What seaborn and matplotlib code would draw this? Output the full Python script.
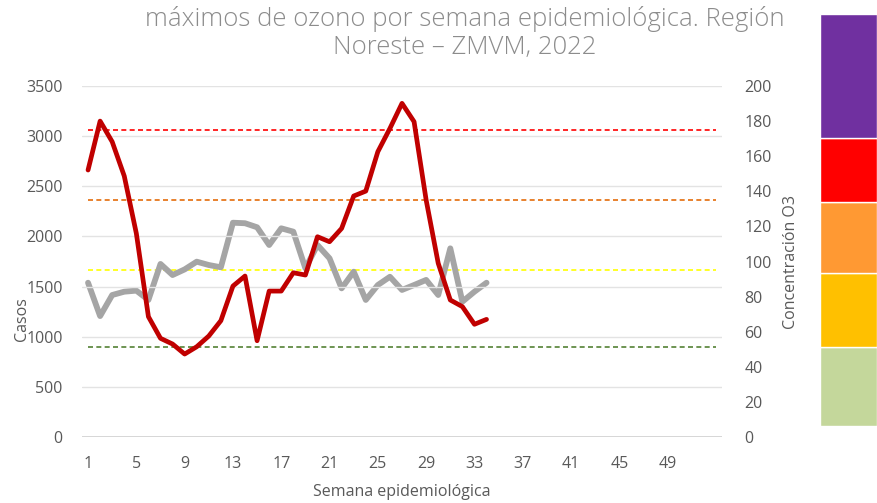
import numpy as np
import pandas as pd
import matplotlib
matplotlib.use("Agg")
import matplotlib.pyplot as plt
import seaborn as sns

# data
semanas = list(range(1, 35))
casos = [2662, 3150, 2944, 2602, 2030, 1200, 984, 927, 827, 900, 1007, 1160,
         1505, 1605, 960, 1455, 1455, 1638, 1615, 1997, 1947, 2080, 2403, 2452,
         2845, 3077, 3327, 3144, 2363, 1732, 1366, 1300, 1124, 1173]
ozono = [87.9, 68.9, 80.9, 82.8, 83.4, 78.1, 98.6, 92.3, 95.5, 99.9, 98.0, 96.7,
         122.1, 121.8, 119.5, 109.4, 118.9, 117.0, 96.1, 109.4, 101.8, 84.7, 94.2, 78.1,
         86.6, 91.3, 83.8, 86.6, 89.5, 80.9, 107.5, 77.1, 82.8, 87.9]

semanas_todas = list(range(1, 54))
umbrales = [175, 135, 95, 51]
umbral_colores = ["#FF0000", "#E46C0A", "#FFFF00", "#548235"]

x_ticks = list(range(1, 50, 4))

# colour bands on the right side (ppb edges)
bandas = [6, 51, 93, 134, 170, 241]
banda_colores = ["#C4D79B", "#FFC000", "#FF9933", "#FF0000", "#7030A0"]

sns.set_style("white")
plt.rcParams['font.family'] = ['Open Sans', 'DejaVu Sans']
gris = "#595959"

fig = plt.figure(figsize=(8.77, 5.03), dpi=100)
ax = fig.add_axes([82 / 877, 1 - 437 / 503, 640 / 877, 351 / 503])
ax2 = ax.twinx()

df_c = pd.DataFrame({"Semana": semanas, "Casos": casos})
df_o = pd.DataFrame({"Semana": semanas, "O3": ozono})

# horizontal gridlines
for v in range(500, 3501, 500):
    ax.axhline(v, color="#E3E3E3", lw=1, zorder=0)
ax.axhline(0, color="#D0D0D0", lw=1.2, zorder=0)

# threshold lines on right axis
for val, col in zip(umbrales, umbral_colores):
    df_u = pd.DataFrame({"Semana": semanas_todas, "v": [val] * len(semanas_todas)})
    sns.lineplot(data=df_u, x="Semana", y="v", ax=ax2, color=col, lw=1.2,
                 linestyle=(0, (3, 2)), zorder=2)

sns.lineplot(data=df_o, x="Semana", y="O3", ax=ax2, color="#A5A5A5", lw=4.2,
             zorder=3, solid_joinstyle="round")
sns.lineplot(data=df_c, x="Semana", y="Casos", ax=ax, color="#C00000", lw=3.4,
             zorder=4, solid_joinstyle="round")
ax.set_zorder(ax2.get_zorder() + 1)
ax.patch.set_visible(False)

ax.set_xlim(0.5, 53.5)
ax.set_ylim(0, 3500)
ax2.set_ylim(0, 200)
ax.set_xticks(x_ticks)
ax.set_yticks(range(0, 3501, 500))
ax2.set_yticks(range(0, 201, 20))

for a in (ax, ax2):
    for s in a.spines.values():
        s.set_visible(False)
    a.tick_params(length=0, colors=gris, labelsize=11.5)
ax.tick_params(axis="x", pad=14)
ax.tick_params(axis="y", pad=14)
ax2.tick_params(axis="y", pad=16)

ax.set_xlabel("Semana epidemiológica", color=gris, fontsize=11.5, labelpad=8)
ax.set_ylabel("Casos", color=gris, fontsize=11.5)
ax.yaxis.set_label_coords(-0.082, 0.335)
ax2.set_ylabel("Concentración O3", color=gris, fontsize=11.5, labelpad=8)

fig.text(0.530, 0.962, "máximos de ozono por semana epidemiológica. Región",
         ha="center", va="center", fontsize=18.5, color="#8C8C8C", fontweight="light")
fig.text(0.530, 0.906, "Noreste – ZMVM, 2022",
         ha="center", va="center", fontsize=18.5, color="#8C8C8C", fontweight="light")

# colour band legend on the right
axb = fig.add_axes([820 / 877, 1 - 426 / 503, 57 / 877, (426 - 14) / 503])
bdf = pd.DataFrame({"b": bandas[:-1], "h": np.diff(bandas)})
for b, h, c in zip(bdf["b"], bdf["h"], banda_colores):
    axb.bar(0, h, bottom=b, width=1, color=c)
axb.set_xlim(-0.5, 0.5)
axb.set_ylim(6, 241)
axb.axis("off")

fig.savefig("out.png", dpi=100)
